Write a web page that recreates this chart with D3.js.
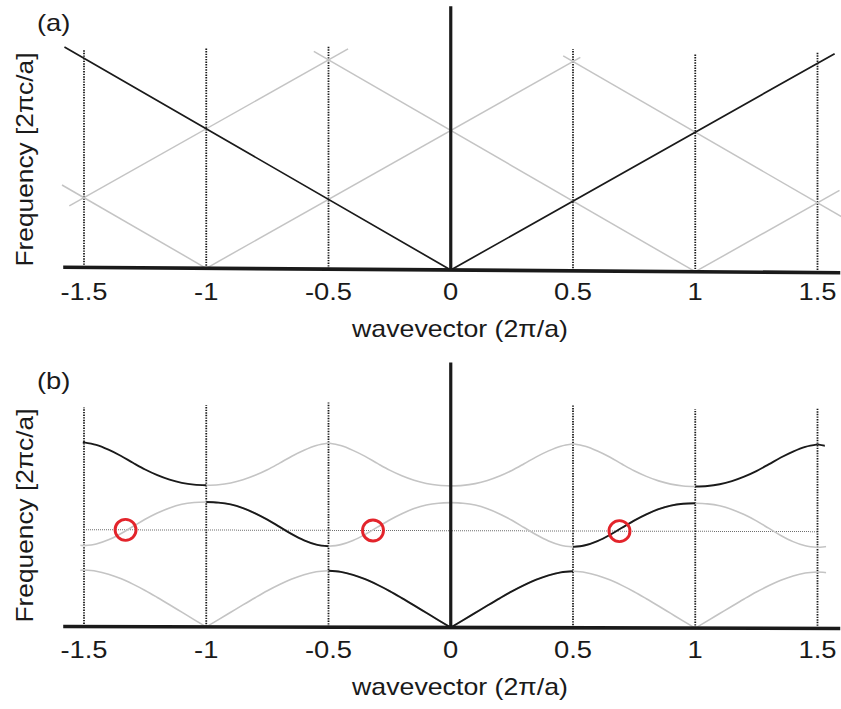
<!DOCTYPE html>
<html>
<head>
<meta charset="utf-8">
<script src="https://cdn.jsdelivr.net/npm/d3@7"></script>
<style>
  html, body { margin: 0; padding: 0; background: #fff; }
  svg { display: block; }
  text { font-family: "Liberation Sans", Arial, Helvetica, sans-serif; fill: #1a1a1a; }
</style>
</head>
<body>
<svg id="chart" width="841" height="709"></svg>
<script>
// ---- data -------------------------------------------------------------
// x-axis ticks (wavevector, units of 2π/a)
const tickValues = [-1.5, -1, -0.5, 0, 0.5, 1, 1.5];
const tickLabels = ["-1.5", "-1", "-0.5", "0", "0.5", "1", "1.5"];

// zone-boundary markers and the frequency where each dotted marker stops
const boundaryK = [-1.5, -1, -0.5, 0.5, 1, 1.5];
const boundaryTopA = [1.56, 1.58, 1.60, 1.59, 1.56, 1.58];
const boundaryTopB = [1.57, 1.59, 1.61, 1.60, 1.57, 1.58];

// (a) homogeneous medium: light line and its folded replicas [k, f]
const lightLine = [[-1.58, 1.58], [0, 0], [1.57, 1.57]];
const foldedLines = [
  [[-1.59, 0.59], [-1, 0]],
  [[-1, 0], [0.53, 1.53]],
  [[-1.56, 0.44], [-0.42, 1.58]],
  [[-0.56, 1.56], [1, 0]],
  [[1, 0], [1.59, 0.59]],
  [[0.46, 1.54], [1.60, 0.40]]
];

// (b) periodic medium: bands sampled over half a Brillouin zone
const bandK = [0, 0.05, 0.1, 0.15, 0.2, 0.25, 0.3, 0.35, 0.4, 0.45, 0.5];
const band1 = [0, 0.052, 0.105, 0.158, 0.21, 0.26, 0.305, 0.345, 0.376, 0.397, 0.405];
const band2 = [0.895, 0.891, 0.878, 0.852, 0.815, 0.77, 0.718, 0.666, 0.622, 0.592, 0.58];
const band3 = [1.015, 1.019, 1.032, 1.055, 1.087, 1.127, 1.175, 1.225, 1.268, 1.302, 1.32];
const bandExtent = [-1.515, 1.535];
// extended-zone parts of each band, drawn in black
const band1Black = [[-0.5, 0.5]];
const band2Black = [[-1, -0.5], [0.5, 1]];
const band3Black = [[-1.505, -1], [1, 1.53]];

// constant-frequency line and its crossings with the second band
const probeFreq = 0.694;
const probeRange = [-1.5, 1.5];
const crossingK = [-1.33, -0.318, 0.69];

// ---- layout ------------------------------------------------------------
const svg = d3.select("#chart");
const x = d3.scaleLinear().domain([-1.5, 1.5]).range([84, 817.5]);
const axisK = [-1.585, 1.593];
const panels = [
  { id: "a", base: 270, tilt: 0.4, top: 1.89, tickY: 300, titleY: 337, yLabelC: 159.5, tagY: 31 },
  { id: "b", base: 627.5, tilt: 0.15, top: 1.9, tickY: 657.5, titleY: 695, yLabelC: 515.5, tagY: 389 }
];
const pxPerUnit = 139.5;
const GREY = "#c4c4c4", INK = "#1a1a1a";
const STRETCH = 1.14;

let clipId = 0;
function clipRange(g, y, k0, k1) {
  const id = "clip" + (clipId++);
  g.append("clipPath").attr("id", id).attr("clipPathUnits", "userSpaceOnUse")
    .append("rect")
    .attr("x", x(k0)).attr("width", x(k1) - x(k0))
    .attr("y", y(2.2)).attr("height", y(-0.2) - y(2.2));
  return "url(#" + id + ")";
}

panels.forEach(p => {
  const y = d3.scaleLinear().domain([0, 1]).range([p.base, p.base - pxPerUnit]);
  const cx = x(0);
  const plot = svg.append("g")
    .attr("transform", `translate(${cx},${p.base}) skewY(${p.tilt}) translate(${-cx},${-p.base})`);

  const line = d3.line().x(d => x(d[0])).y(d => y(d[1]));

  // dotted zone boundaries
  const tops = p.id === "a" ? boundaryTopA : boundaryTopB;
  plot.append("g").selectAll("line").data(boundaryK).join("line")
    .attr("x1", d => x(d)).attr("x2", d => x(d))
    .attr("y1", y(0)).attr("y2", (d, i) => y(tops[i]))
    .attr("stroke", INK).attr("stroke-width", 1.8)
    .attr("stroke-dasharray", "1.4,1.2");

  if (p.id === "a") {
    plot.append("g").selectAll("path").data(foldedLines).join("path")
      .attr("d", line).attr("fill", "none")
      .attr("stroke", GREY).attr("stroke-width", 1.5);
    plot.append("path").datum(lightLine).attr("d", line)
      .attr("fill", "none").attr("stroke", INK).attr("stroke-width", 1.7);
  } else {
    // constant-frequency probe line
    plot.append("line")
      .attr("x1", x(probeRange[0])).attr("x2", x(probeRange[1]))
      .attr("y1", y(probeFreq)).attr("y2", y(probeFreq))
      .attr("stroke", "#6e6e6e").attr("stroke-width", 1)
      .attr("stroke-dasharray", "1,1");

    const curve = d3.line().x(d => x(d[0])).y(d => y(d[1])).curve(d3.curveMonotoneX);
    // each half-zone piece of a band, repeated by reciprocal lattice vectors
    function pieces(values) {
      const out = [];
      [-2, -1, 0, 1, 2].forEach(n => {
        [-1, 1].forEach(s => {
          const pts = bandK.map((k, i) => [n + s * k, values[i]]);
          if (s < 0) pts.reverse();
          out.push(pts);
        });
      });
      return out.filter(pts => pts[pts.length - 1][0] > bandExtent[0] && pts[0][0] < bandExtent[1]);
    }
    const bands = [
      { v: band1, black: band1Black, grey: [bandExtent] },
      { v: band2, black: band2Black, grey: [bandExtent] },
      { v: band3, black: band3Black, grey: [[-1, 1]] }
    ];
    bands.forEach(b => {
      const ps = pieces(b.v);
      b.grey.forEach(r => {
        plot.append("g").attr("clip-path", clipRange(plot, y, r[0], r[1]))
          .selectAll("path").data(ps).join("path")
          .attr("d", curve).attr("fill", "none")
          .attr("stroke", GREY).attr("stroke-width", 1.6);
      });
      b.black.forEach(r => {
        plot.append("g").attr("clip-path", clipRange(plot, y, r[0], r[1]))
          .selectAll("path").data(ps).join("path")
          .attr("d", curve).attr("fill", "none")
          .attr("stroke", INK).attr("stroke-width", 1.9);
      });
    });

    // crossings highlighted
    plot.append("g").selectAll("circle").data(crossingK).join("circle")
      .attr("cx", d => x(d)).attr("cy", y(probeFreq)).attr("r", 10.5)
      .attr("fill", "none").attr("stroke", "#e3242b").attr("stroke-width", 2.9);
  }

  // axes
  plot.append("line")
    .attr("x1", x(0)).attr("x2", x(0))
    .attr("y1", y(0)).attr("y2", y(p.top))
    .attr("stroke", INK).attr("stroke-width", 3.2);
  plot.append("line")
    .attr("x1", x(axisK[0])).attr("x2", x(axisK[1]))
    .attr("y1", y(0)).attr("y2", y(0))
    .attr("stroke", INK).attr("stroke-width", 3.6);

  // tick labels
  const labels = svg.append("g");
  labels.selectAll("text").data(tickValues).join("text")
    .attr("class", "stretch")
    .attr("x", d => x(d)).attr("y", p.tickY)
    .attr("text-anchor", "middle").attr("font-size", 24)
    .text((d, i) => tickLabels[i]);

  labels.append("text")
    .attr("x", 460).attr("y", p.titleY)
    .attr("text-anchor", "middle").attr("font-size", 24)
    .attr("textLength", 216).attr("lengthAdjust", "spacingAndGlyphs")
    .text("wavevector (2π/a)");

  labels.append("text")
    .attr("transform", `translate(33,${p.yLabelC}) rotate(-90)`)
    .attr("text-anchor", "middle").attr("font-size", 24)
    .attr("textLength", 214).attr("lengthAdjust", "spacingAndGlyphs")
    .text("Frequency [2πc/a]");

  labels.append("text").attr("class", "stretch")
    .attr("x", 37).attr("y", p.tagY)
    .attr("font-size", 24)
    .text("(" + p.id + ")");
});

// Helvetica-style wide lettering
svg.selectAll("text.stretch").each(function () {
  const w = this.getComputedTextLength();
  d3.select(this).attr("textLength", w * STRETCH).attr("lengthAdjust", "spacingAndGlyphs");
});
</script>
</body>
</html>
